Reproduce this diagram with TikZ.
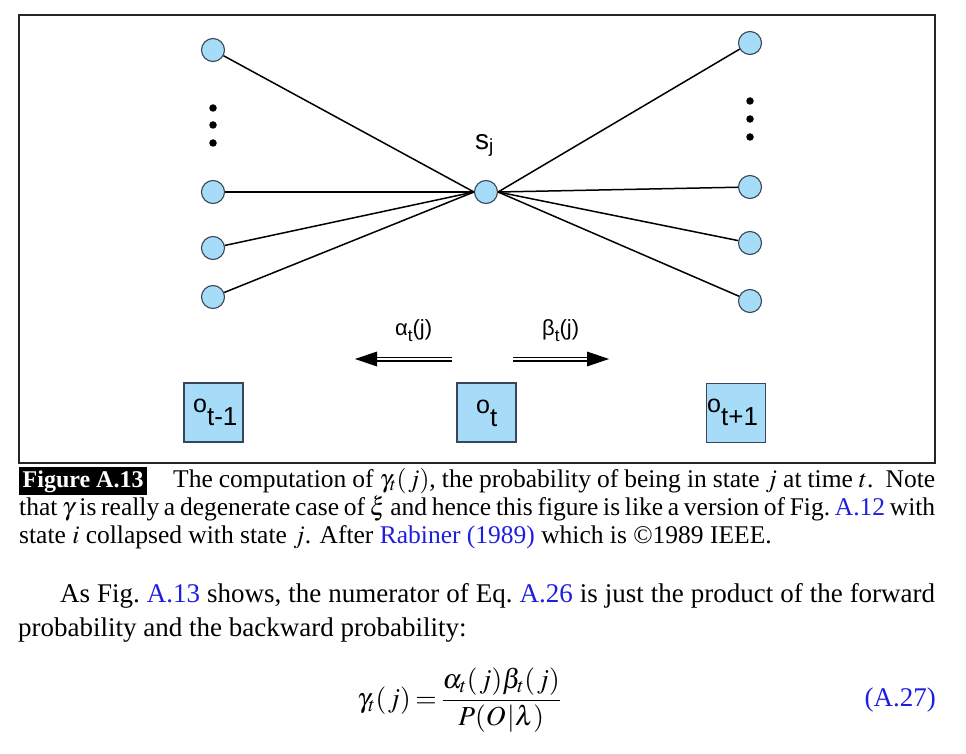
\documentclass[tikz,border=0pt]{standalone}
\usepackage{mathptmx}
\usepackage[no-math]{fontspec}
\setmainfont{Liberation Serif}
\newfontfamily\sansf{Liberation Sans}
\usetikzlibrary{calc}
\definecolor{nodeblue}{RGB}{166,220,247}
\definecolor{nodeedge}{RGB}{55,70,90}
\definecolor{linkblue}{RGB}{30,30,225}
\newcommand{\fs}[1]{\fontsize{#1}{#1}\selectfont}
\begin{document}
\begin{tikzpicture}[x=1pt,y=-1pt,
  statenode/.style={circle, draw=nodeedge, fill=nodeblue, line width=1.1pt, minimum size=23pt, inner sep=0pt},
  obsbox/.style={rectangle, draw=nodeedge, fill=nodeblue, line width=1.1pt, minimum width=59pt, minimum height=59pt, inner sep=0pt},
  link/.style={line width=1.5pt, black},
  dotnode/.style={circle, fill=black, minimum size=7.5pt, inner sep=0pt},
  lbl/.style={anchor=base west, inner sep=0pt, font=\sansf},
  txt/.style={anchor=base west, inner sep=0pt},
  dblline/.style={line width=1.2pt, double distance=2.6pt, double=white}
]
\useasboundingbox (0,0) rectangle (966,754);
% frame
\draw[line width=1.2pt, black!85] (19,15) rectangle (935,463);

% state nodes
\node[statenode] (L1) at (213,50) {};
\node[statenode] (L2) at (213,192) {};
\node[statenode] (L3) at (213,248) {};
\node[statenode] (L4) at (213,297) {};
\node[statenode] (R1) at (750,43) {};
\node[statenode] (R2) at (750,187) {};
\node[statenode] (R3) at (750,243) {};
\node[statenode] (R4) at (750,301) {};
\node[statenode] (S) at (486,192) {};

% dots
\node[dotnode] (ld1) at (213,108) {};
\node[dotnode] (ld2) at (213,125) {};
\node[dotnode] (ld3) at (213,143) {};
\node[dotnode] (rd1) at (750,101) {};
\node[dotnode] (rd2) at (750,119) {};
\node[dotnode] (rd3) at (750,137) {};

% connectors
\foreach \n in {L1,L2,L3,L4} \draw[link] (\n) -- (S.west);
\foreach \n in {R1,R2,R3,R4} \draw[link] (S.east) -- (\n);

% s_j label
\node[lbl] (sj) at (475,150) {\fs{28}s\raisebox{-3pt}{\fs{19}j}};

% observation boxes
\node[obsbox] (OL) at (213.5,412.5) {};
\node[obsbox] (OT) at (486.5,412.5) {};
\node[obsbox] (OR) at (736,413) {};
\node[lbl] (olt) at (193,412) {\fs{25}o\raisebox{-13pt}{\fs{26}t-1}};
\node[lbl] (ott) at (476,413) {\fs{25}o\raisebox{-13pt}{\fs{26}t}};
\node[lbl] (ort) at (707,412) {\fs{25}o\raisebox{-13pt}{\fs{26}t+1}};

% alpha / beta labels
\node[lbl] (alab) at (395,335) {\fs{22}α\raisebox{-6pt}{\fs{17}t}(j)};
\node[lbl] (blab) at (542,335) {\fs{22}β\raisebox{-6pt}{\fs{17}t}(j)};

% arrows
\coordinate (alS) at (452,359);
\coordinate (alE) at (375,359);
\coordinate (alT) at (355,359);
\coordinate (arS) at (513,359);
\coordinate (arE) at (589,359);
\coordinate (arT) at (609,359);
\draw[dblline] (alS) -- (alE);
\draw[dblline] (arS) -- (arE);
\fill (alT) -- ($(alE)+(2,-7.5)$) -- ($(alE)+(2,7.5)$) -- cycle;
\fill (arT) -- ($(arE)+(-2,-7.5)$) -- ($(arE)+(-2,7.5)$) -- cycle;

% caption
\node[fill=black, minimum width=128pt, minimum height=28pt, inner sep=0pt, anchor=north west] (capbox) at (19,467) {};
\node[txt, text=white] (capfig) at (22.5,487) {\fontsize{24}{28}\selectfont\bfseries Figure A.13};
\node[txt] (cap1) at (173,487) {\fontsize{25.5}{28}\selectfont\makebox[762pt][s]{The computation of $\gamma_t(\mkern1mu j)$, the probability of being in state $j$ at time $t$.\ \ Note}};
\node[txt] (cap2) at (19,515) {\fontsize{25.5}{28}\selectfont\makebox[916pt][s]{that $\gamma$ is really a degenerate case of $\xi$ and hence this figure is like a version of Fig.\ \textcolor{linkblue}{A.12} with}};
\node[txt] (cap3) at (19,543) {\fontsize{25.5}{28}\selectfont state $i$ collapsed with state $j$. After \textcolor{linkblue}{Rabiner (1989)} which is ©1989 IEEE.};

% body text
\node[txt] (body1) at (60,602) {\fontsize{27}{34}\selectfont\makebox[875pt][s]{As Fig.\ \textcolor{linkblue}{A.13} shows, the numerator of Eq.\ \textcolor{linkblue}{A.26} is just the product of the forward}};
\node[txt] (body2) at (18,636) {\fontsize{27}{34}\selectfont probability and the backward probability:};

% equation
\node[txt] (eq) at (357,707) {\fontsize{27.5}{34}\selectfont$\displaystyle\gamma_t(\mkern1mu j)\mkern-1mu=\mkern-1mu\frac{\alpha_t(\mkern1mu j)\beta_t(\mkern1mu j)}{P(O\mkern1mu|\lambda)}$};
\node[anchor=base east, inner sep=0pt, text=linkblue] (eqnum) at (936,706) {\fontsize{27}{34}\selectfont(A.27)};
\end{tikzpicture}
\end{document}
